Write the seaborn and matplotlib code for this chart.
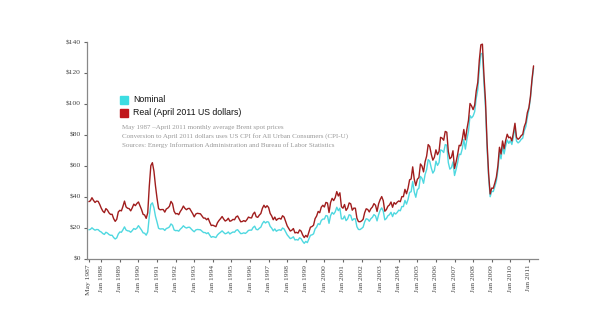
import numpy as np
import pandas as pd
import matplotlib
matplotlib.use("Agg")
import matplotlib.pyplot as plt
from matplotlib.patches import Rectangle
import seaborn as sns

# Brent spot price, monthly average, US$ per barrel (May 1987 - Apr 2011)
brent_1987 = [18.58, 18.86, 19.86, 18.98, 18.31, 18.76, 18.67, 17.67]
brent_1988 = [17.13, 16.13, 15.60, 16.98, 16.45, 15.52, 15.00, 15.05, 13.56, 12.64, 13.36, 15.84]
brent_1989 = [17.18, 16.99, 18.59, 20.47, 18.41, 17.92, 17.79, 16.99, 18.05, 19.39, 18.85, 19.62]
brent_1990 = [21.25, 19.81, 18.39, 16.61, 16.35, 15.10, 17.17, 27.17, 34.90, 36.02, 32.82, 27.28]
brent_1991 = [23.57, 19.54, 19.08, 19.18, 19.19, 18.17, 19.40, 19.77, 20.45, 22.36, 21.46, 18.50]
brent_1992 = [18.00, 18.16, 17.68, 18.96, 19.89, 21.16, 20.23, 19.69, 20.18, 20.22, 19.12, 18.11]
brent_1993 = [17.31, 18.48, 18.79, 18.70, 18.57, 17.70, 16.80, 16.80, 16.10, 16.70, 15.10, 13.71]
brent_1994 = [14.20, 13.87, 13.57, 15.25, 16.22, 16.99, 17.89, 16.83, 15.97, 16.36, 17.16, 15.88]
brent_1995 = [16.58, 17.15, 16.98, 18.23, 18.64, 17.38, 16.09, 16.21, 16.62, 16.21, 17.03, 18.16]
brent_1996 = [18.38, 18.32, 20.06, 20.91, 18.86, 18.57, 19.56, 20.30, 22.64, 24.04, 22.96, 23.82]
brent_1997 = [23.54, 20.82, 19.63, 17.90, 19.13, 17.63, 18.30, 18.57, 18.17, 19.74, 19.13, 17.16]
brent_1998 = [15.30, 14.04, 12.88, 13.27, 14.05, 12.00, 12.26, 11.90, 13.41, 12.81, 11.03, 9.82]
brent_1999 = [11.08, 10.28, 12.59, 15.01, 15.31, 15.94, 19.10, 20.36, 22.55, 21.94, 24.59, 25.51]
brent_2000 = [25.51, 27.78, 27.49, 22.76, 27.74, 29.80, 28.68, 30.20, 33.14, 30.96, 32.55, 25.66]
brent_2001 = [25.62, 27.50, 24.50, 25.66, 28.31, 27.85, 24.61, 25.68, 25.62, 20.54, 18.80, 18.71]
brent_2002 = [19.42, 20.28, 23.70, 25.73, 25.35, 24.08, 25.74, 26.65, 28.40, 27.54, 24.34, 28.33]
brent_2003 = [31.18, 32.77, 30.61, 25.00, 25.86, 27.65, 28.35, 29.89, 27.11, 29.61, 28.75, 29.81]
brent_2004 = [31.28, 30.86, 33.63, 33.59, 37.57, 35.18, 38.22, 42.74, 43.20, 49.78, 43.11, 39.60]
brent_2005 = [44.51, 45.48, 53.10, 51.88, 48.65, 54.35, 57.52, 63.98, 62.91, 58.54, 55.24, 56.86]
brent_2006 = [62.99, 60.21, 62.06, 70.26, 69.78, 68.56, 73.67, 73.23, 61.96, 57.81, 58.76, 62.47]
brent_2007 = [53.68, 57.56, 62.05, 67.49, 67.21, 71.05, 76.93, 70.76, 77.17, 82.34, 92.41, 90.93]
brent_2008 = [92.18, 94.99, 103.64, 109.07, 122.80, 132.32, 132.72, 113.24, 97.23, 71.58, 52.45, 39.95]
brent_2009 = [43.44, 43.32, 46.54, 50.18, 57.30, 68.61, 64.44, 72.51, 67.65, 72.77, 76.66, 74.46]
brent_2010 = [76.17, 73.75, 78.83, 84.82, 75.95, 74.76, 75.58, 77.04, 77.84, 82.67, 85.28, 91.45]
brent_2011 = [96.52, 103.72, 114.64, 123.26]

# US CPI-U, annual averages 1987-2011, and the April 2011 index
cpi_years = list(range(1987, 2012))
cpi_values = [113.6, 118.3, 124.0, 130.7, 136.2, 140.3, 144.5, 148.2, 152.4, 156.9,
              160.5, 163.0, 166.6, 172.2, 177.1, 179.9, 184.0, 188.9, 195.3, 201.6,
              207.3, 215.3, 214.5, 218.1, 222.5]
cpi_april_2011 = 224.9

yearly = [brent_1987, brent_1988, brent_1989, brent_1990, brent_1991, brent_1992,
          brent_1993, brent_1994, brent_1995, brent_1996, brent_1997, brent_1998,
          brent_1999, brent_2000, brent_2001, brent_2002, brent_2003, brent_2004,
          brent_2005, brent_2006, brent_2007, brent_2008, brent_2009, brent_2010,
          brent_2011]

nominal = []
real = []
for year, prices, cpi in zip(cpi_years, yearly, cpi_values):
    for p in prices:
        nominal.append(p)
        real.append(p * cpi_april_2011 / cpi)

months = np.arange(len(nominal))
df = pd.DataFrame({
    "month": np.concatenate([months, months]),
    "price": nominal + real,
    "series": ["Nominal"] * len(nominal) + ["Real"] * len(real),
})

tick_labels = ["May 1987"] + [f"Jan {y}" for y in range(1988, 2012)]
tick_pos = [0] + [8 + 12 * i for i in range(24)]
y_ticks = [0, 20, 40, 60, 80, 100, 120, 140]

sns.set_theme(style="white")
plt.rcParams["font.family"] = ["Liberation Serif", "DejaVu Serif"]

fig = plt.figure(figsize=(6.0, 3.31), dpi=100)
ax = fig.add_axes([0.145, 0.219, 0.752, 0.654])

cyan = "#4fd8e0"
red = "#a01d1d"
sns.lineplot(data=df, x="month", y="price", hue="series",
             palette={"Nominal": cyan, "Real": red}, hue_order=["Nominal", "Real"],
             linewidth=1.0, legend=False, ax=ax)
for line in ax.get_lines():
    line.set_clip_on(False)

ax.set_xlim(-1.2, 290)
ax.set_ylim(0, 140)
ax.set_xticks(tick_pos)
ax.set_xticklabels(tick_labels, rotation=90, fontsize=5.4, color="#444444")
ax.set_yticks(y_ticks)
ax.set_yticklabels([f"${v}" for v in y_ticks], fontsize=5.4, color="#444444")
ax.set_xlabel("")
ax.set_ylabel("")
ax.grid(False)

for side in ["top", "right"]:
    ax.spines[side].set_visible(False)
for side in ["left", "bottom"]:
    ax.spines[side].set_color("#888888")
    ax.spines[side].set_linewidth(0.9)
ax.tick_params(axis="both", which="major", length=2.5, width=0.8, color="#666666",
               pad=2, bottom=True, left=True)

# legend swatches and notes
fig.patches.append(Rectangle((120 / 600, 1 - 103.5 / 331), 8 / 600, 8 / 331,
                             transform=fig.transFigure, color="#3ddde2", zorder=5))
fig.patches.append(Rectangle((120 / 600, 1 - 116.5 / 331), 8 / 600, 8 / 331,
                             transform=fig.transFigure, color="#c0171c", zorder=5))
fig.text(133 / 600, 1 - 99.5 / 331, "Nominal", fontsize=6.3, va="center",
         family=["Liberation Sans", "DejaVu Sans"], color="#111111")
fig.text(133 / 600, 1 - 112.5 / 331, "Real (April 2011 US dollars)", fontsize=6.3,
         va="center", family=["Liberation Sans", "DejaVu Sans"], color="#111111")

notes = [
    "May 1987 \u2013April 2011 monthly average Brent spot prices",
    "Conversion to April 2011 dollars uses US CPI for All Urban Consumers (CPI-U)",
    "Sources: Energy Information Administration and Bureau of Labor Statistics",
]
for i, line in enumerate(notes):
    fig.text(122 / 600, 1 - (127.5 + 9 * i) / 331, line, fontsize=5.0,
             va="center", color="#999999")

fig.savefig("out.png", dpi=100, facecolor="white")
